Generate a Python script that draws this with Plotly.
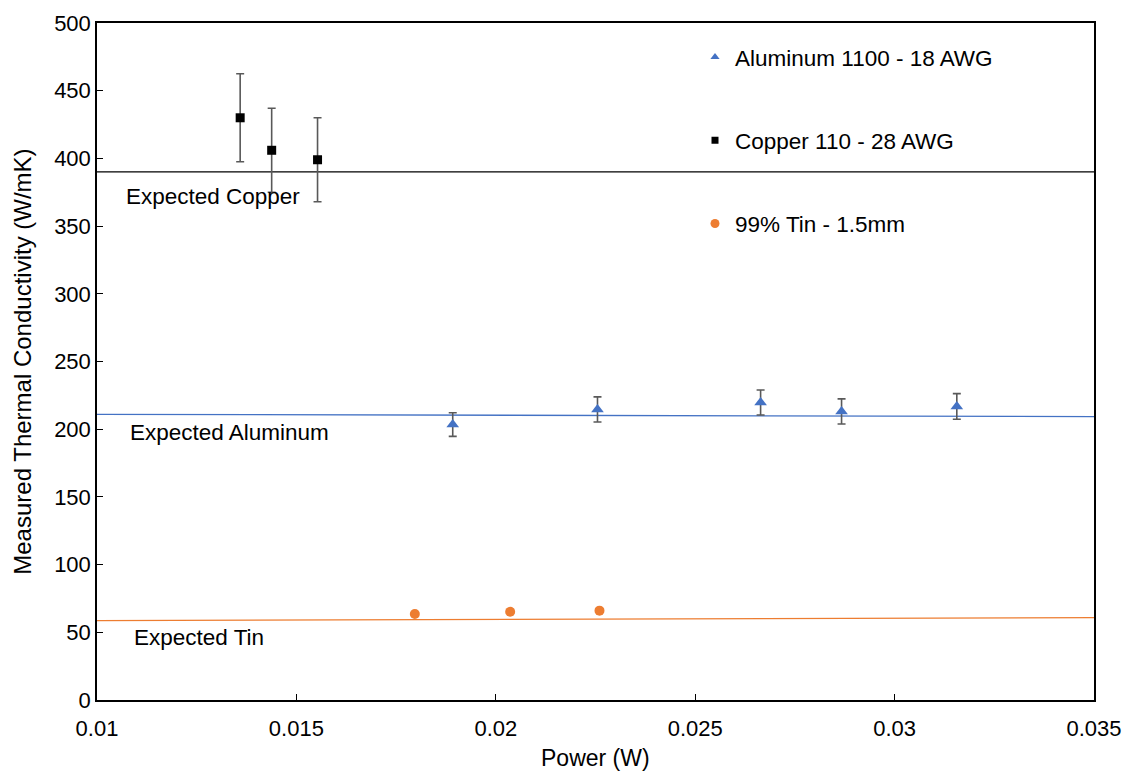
import plotly.graph_objects as go

# ---- data ----
copper_x = [0.01359, 0.01438, 0.01553]
copper_y = [430, 406, 399]
copper_err = [32.5, 31, 31]

al_x = [0.01892, 0.02255, 0.02664, 0.02867, 0.03156]
al_y = [203.4, 214.6, 219.7, 213.1, 216.8]
al_err = [8.7, 9.3, 9.2, 9.3, 9.5]

tin_x = [0.01797, 0.02036, 0.02260]
tin_y = [63.5, 65.2, 66.0]
tin_err = [2.0, 2.0, 2.0]

exp_x = [0.01, 0.035]
exp_copper = [390, 390]
exp_al = [211.0, 209.3]
exp_tin = [58.6, 60.8]

x_ticks = [0.01, 0.015, 0.02, 0.025, 0.03, 0.035]
x_tick_text = ["0.01", "0.015", "0.02", "0.025", "0.03", "0.035"]
y_ticks = [0, 50, 100, 150, 200, 250, 300, 350, 400, 450, 500]

BLUE = "#4472C4"
ORANGE = "#ED7D31"
ERR = "#595959"
FONT = "Liberation Sans, Arial, sans-serif"

fig = go.Figure()

# expected lines
fig.add_trace(go.Scatter(x=exp_x, y=exp_copper, mode="lines",
                         line=dict(color="black", width=1.3), showlegend=False, hoverinfo="skip"))
fig.add_trace(go.Scatter(x=exp_x, y=exp_al, mode="lines",
                         line=dict(color=BLUE, width=1.3), showlegend=False, hoverinfo="skip"))
fig.add_trace(go.Scatter(x=exp_x, y=exp_tin, mode="lines",
                         line=dict(color=ORANGE, width=1.3), showlegend=False, hoverinfo="skip"))

# data series
fig.add_trace(go.Scatter(x=copper_x, y=copper_y, mode="markers",
                         marker=dict(symbol="square", size=9, color="black"),
                         error_y=dict(type="data", array=copper_err, color=ERR, thickness=1.6, width=4),
                         showlegend=False))
fig.add_trace(go.Scatter(x=al_x, y=al_y, mode="markers",
                         marker=dict(symbol="triangle-up", size=11, color=BLUE),
                         error_y=dict(type="data", array=al_err, color=ERR, thickness=1.6, width=4),
                         showlegend=False))
fig.add_trace(go.Scatter(x=tin_x, y=tin_y, mode="markers",
                         marker=dict(symbol="circle", size=10, color=ORANGE),
                         error_y=dict(type="data", array=tin_err, color=ERR, thickness=1.6, width=3),
                         showlegend=False))

# legend entries
fig.add_trace(go.Scatter(x=[None], y=[None], mode="markers", name="Aluminum 1100 - 18 AWG",
                         marker=dict(symbol="triangle-up", size=8, color=BLUE), legendgroup="a"))
fig.add_trace(go.Scatter(x=[None], y=[None], mode="markers", name="Copper 110 - 28 AWG",
                         marker=dict(symbol="square", size=7, color="black"), legendgroup="b"))
fig.add_trace(go.Scatter(x=[None], y=[None], mode="markers", name="99% Tin - 1.5mm",
                         marker=dict(symbol="circle", size=9, color=ORANGE), legendgroup="c"))

ann_font = dict(family=FONT, size=22.5, color="black")
annotations = [
    dict(x=0.01068, y=371.5, xref="x", yref="y", text="Expected Copper", showarrow=False,
         xanchor="left", yanchor="middle", font=ann_font),
    dict(x=0.01078, y=197.2, xref="x", yref="y", text="Expected Aluminum", showarrow=False,
         xanchor="left", yanchor="middle", font=ann_font),
    dict(x=0.01088, y=46.5, xref="x", yref="y", text="Expected Tin", showarrow=False,
         xanchor="left", yanchor="middle", font=ann_font),
    dict(x=0.5, y=-0.085, xref="paper", yref="paper", text="Power (W)", showarrow=False,
         xanchor="center", yanchor="middle", font=dict(family=FONT, size=23, color="black")),
    dict(x=-0.075, y=0.5, xref="paper", yref="paper", text="Measured Thermal Conductivity (W/mK)",
         showarrow=False, textangle=-90, xanchor="center", yanchor="middle",
         font=dict(family=FONT, size=24, color="black")),
]

fig.update_layout(
    width=1122, height=771,
    margin=dict(l=97, r=28, t=23, b=71, autoexpand=False),
    paper_bgcolor="white", plot_bgcolor="white",
    font=dict(family=FONT, size=22, color="black"),
    showlegend=True,
    legend=dict(x=0.5998, y=0.981, xanchor="left", yanchor="top",
                bgcolor="rgba(0,0,0,0)", tracegroupgap=51,
                font=dict(family=FONT, size=22.5, color="black")),
    annotations=annotations,
)
fig.update_xaxes(range=[0.01, 0.035], tickvals=x_ticks, ticktext=x_tick_text,
                 showgrid=False, zeroline=False, showline=True, linecolor="black", linewidth=1.5,
                 mirror=True, ticks="inside", ticklen=6, tickcolor="black", ticklabelstandoff=8,
                 tickfont=dict(family=FONT, size=22, color="black"))
fig.update_yaxes(range=[0, 500], tickvals=y_ticks, ticksuffix="\u00a0\u00a0",
                 showgrid=False, zeroline=False, showline=True, linecolor="black", linewidth=1.5,
                 mirror=True, ticks="inside", ticklen=6, tickcolor="black",
                 tickfont=dict(family=FONT, size=22, color="black"))

fig.write_html("out.html")
